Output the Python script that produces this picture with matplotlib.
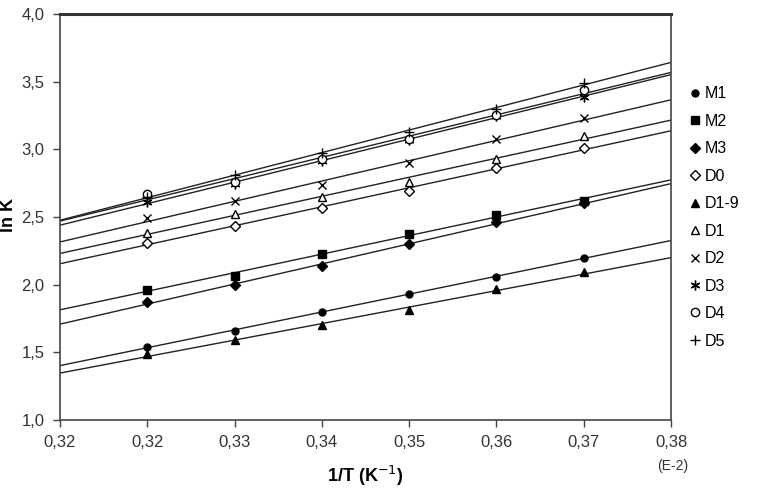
import numpy as np
import matplotlib
matplotlib.use('Agg')
import matplotlib.pyplot as plt

plt.rcParams['font.family'] = ['Liberation Sans', 'DejaVu Sans']

# 1/T values (E-2) of the measurements
x_vals = [0.3243, 0.3336, 0.3429, 0.3521, 0.3614, 0.3707]

# ln K per series
M1 = [1.54, 1.66, 1.80, 1.93, 2.055, 2.20]
M2 = [1.96, 2.065, 2.23, 2.375, 2.515, 2.62]
M3 = [1.875, 1.995, 2.135, 2.30, 2.46, 2.60]
D0 = [2.31, 2.435, 2.565, 2.695, 2.86, 3.01]
D1_9 = [1.485, 1.59, 1.70, 1.81, 1.965, 2.09]
D1 = [2.385, 2.52, 2.645, 2.76, 2.93, 3.10]
D2 = [2.49, 2.615, 2.735, 2.90, 3.075, 3.23]
D3 = [2.61, 2.745, 2.915, 3.07, 3.245, 3.39]
D4 = [2.67, 2.755, 2.925, 3.075, 3.25, 3.44]
D5 = [2.65, 2.81, 2.975, 3.13, 3.30, 3.49]

series_names = ['M1', 'M2', 'M3', 'D0', 'D1-9', 'D1', 'D2', 'D3', 'D4', 'D5']
series_values = [M1, M2, M3, D0, D1_9, D1, D2, D3, D4, D5]

x_ticks = [0.315, 0.32429, 0.33357, 0.34286, 0.35214, 0.36143, 0.37071, 0.38]
x_tick_labels = ['0,32', '0,32', '0,33', '0,34', '0,35', '0,36', '0,37', '0,38']
y_ticks = [1.0, 1.5, 2.0, 2.5, 3.0, 3.5, 4.0]
y_tick_labels = ['1,0', '1,5', '2,0', '2,5', '3,0', '3,5', '4,0']

# marker styles: (marker, size, filled)
styles = {
    'M1': ('o', 5, True),
    'M2': ('s', 6, True),
    'M3': ('D', 5, True),
    'D0': ('D', 5, False),
    'D1-9': ('^', 6, True),
    'D1': ('^', 6, False),
    'D2': ('x', 6, False),
    'D3': ((6, 2, 0), 7, False),
    'D4': ('o', 6, False),
    'D5': ('+', 7, False),
}

fig = plt.figure(figsize=(7.64, 4.90), dpi=100)
ax = fig.add_axes([60 / 764, 1 - 420 / 490, 611 / 764, 406 / 490])

xlim = (x_ticks[0], x_ticks[-1])
xx = np.array(xlim)
handles = []
for name, vals in zip(series_names, series_values):
    slope, icpt = np.polyfit(x_vals, vals, 1)
    ax.plot(xx, slope * xx + icpt, color='#222222', lw=1.0, zorder=2)
    mk, ms, filled = styles[name]
    h, = ax.plot(x_vals, vals, linestyle='none', marker=mk, markersize=ms,
                 markerfacecolor='black' if filled else 'white',
                 markeredgecolor='black', markeredgewidth=1.0, zorder=3,
                 label=name)
    handles.append(h)

ax.set_xlim(*xlim)
ax.set_ylim(1.0, 4.0)
ax.set_xticks(x_ticks)
ax.set_xticklabels(x_tick_labels, fontsize=12, color='#333333')
ax.set_yticks(y_ticks)
ax.set_yticklabels(y_tick_labels, fontsize=12, color='#333333')
ax.tick_params(direction='out', length=5, width=1.0, color='#444444', pad=6)

for side in ['left', 'right', 'bottom']:
    ax.spines[side].set_linewidth(1.2)
    ax.spines[side].set_color('#444444')
ax.spines['top'].set_linewidth(2.2)
ax.spines['top'].set_color('#333333')

ax.set_xlabel('1/T (K$^{-1}$)', fontsize=13, fontweight='bold', labelpad=10)
fig.text(9 / 764, 1 - 215 / 490, 'ln K', rotation=90, fontsize=13,
         fontweight='bold', ha='center', va='center')
fig.text(673 / 764, 1 - 466 / 490, '(E-2)', fontsize=10, color='#333333',
         ha='center', va='center')

fig.legend(handles=handles, loc='upper left',
           bbox_to_anchor=(681 / 764, 1 - 80 / 490), frameon=False,
           fontsize=11.5, labelspacing=0.78, handletextpad=0.1,
           handlelength=1.0, borderaxespad=0)

fig.savefig('out.png', dpi=100)
